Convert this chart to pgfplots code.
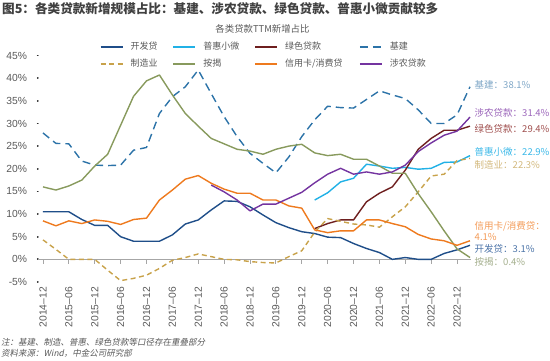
\documentclass[border=0pt]{standalone}
\usepackage{fontspec}
\setmainfont{Liberation Sans}
\newfontfamily\cjk{Noto Sans CJK SC}
\newfontfamily\cjksl{Noto Sans CJK SC}[FakeSlant=0.2]
\usepackage{pgfplots}
\pgfplotsset{compat=1.18}
\definecolor{kaifa}{HTML}{1F4E89}
\definecolor{puhui}{HTML}{21B1E6}
\definecolor{lvse}{HTML}{6E1F1F}
\definecolor{jijian}{HTML}{2C73A8}
\definecolor{zhizao}{HTML}{C8A24A}
\definecolor{anjie}{HTML}{889A5D}
\definecolor{xinyong}{HTML}{EE7A1E}
\definecolor{shenong}{HTML}{7434A0}
\definecolor{labc}{HTML}{595959}
\definecolor{titlec}{HTML}{404040}
\definecolor{axisc}{HTML}{A6A6A6}
\definecolor{Ljijian}{HTML}{7EA6C6}
\definecolor{Lshenong}{HTML}{9B65BA}
\definecolor{Llvse}{HTML}{A0504F}
\definecolor{Lpuhui}{HTML}{3AB8E8}
\definecolor{Lzhizao}{HTML}{D2B87C}
\definecolor{Lxinyong}{HTML}{F39A56}
\definecolor{Lkaifa}{HTML}{4C74A8}
\definecolor{Lanjie}{HTML}{A3AE8C}

\pgfplotstableread{
i v
0 10.5
1 10.5
2 10.5
3 8.8
4 7.5
5 7.5
6 5.0
7 4.0
8 4.0
9 4.0
10 5.4
11 7.8
12 8.7
13 10.9
14 12.9
15 12.8
16 11.6
17 9.8
18 8.1
19 7.0
20 6.1
21 5.7
22 4.9
23 4.8
24 3.5
25 2.4
26 1.5
27 0.0
28 0.4
29 0.0
30 0.0
31 1.3
32 2.1
33 3.1
}\kaifadata

\pgfplotstableread{
i v
21 13.1
22 14.7
23 17.1
24 17.9
25 21.0
26 20.6
27 20.1
28 20.3
29 19.9
30 20.1
31 21.4
32 21.5
33 22.9
}\puhuidata

\pgfplotstableread{
i v
21 6.8
22 7.9
23 8.7
24 8.7
25 12.7
26 14.6
27 16.0
28 19.7
29 24.3
30 26.7
31 28.5
32 28.5
33 29.4
}\lvsedata

\pgfplotstableread{
i v
0 27.9
1 25.6
2 25.5
3 21.7
4 20.8
5 20.7
6 20.8
7 24.1
8 24.7
9 32.2
10 35.9
11 38.1
12 41.8
13 36.6
14 31.5
15 27.1
16 23.4
17 21.2
18 19.1
19 22.6
20 27.1
21 30.8
22 33.8
23 33.5
24 33.4
25 35.3
26 37.2
27 36.3
28 35.5
29 33.0
30 30.0
31 30.0
32 31.9
33 38.1
}\jijiandata

\pgfplotstableread{
i v
0 4.3
1 2.2
2 0.0
3 0.0
4 0.0
5 -2.4
6 -4.7
7 -4.2
8 -3.5
9 -2.0
10 -0.2
11 0.4
12 1.2
13 0.6
14 0.0
15 -0.1
16 -0.5
17 -0.7
18 -0.8
19 0.6
20 1.9
21 6.0
22 9.0
23 8.4
24 7.8
25 7.6
26 7.1
27 9.4
28 11.6
29 14.9
30 18.4
31 18.8
32 21.8
33 22.3
}\zhizaodata

\pgfplotstableread{
i v
0 16.0
1 15.3
2 16.2
3 17.5
4 20.6
5 23.2
6 29.6
7 36.0
8 39.4
9 40.7
10 36.3
11 32.2
12 29.4
13 26.7
14 25.5
15 24.3
16 23.9
17 23.2
18 24.3
19 25.0
20 25.4
21 23.5
22 22.9
23 23.2
24 22.1
25 22.1
26 20.6
27 19.0
28 19.0
29 14.5
30 10.5
31 6.3
32 2.3
33 0.4
}\anjiedata

\pgfplotstableread{
i v
0 8.5
1 7.4
2 8.5
3 7.9
4 8.7
5 8.4
6 7.7
7 8.8
8 9.1
9 13.1
10 15.3
11 17.7
12 18.5
13 16.8
14 15.5
15 14.6
16 14.6
17 13.1
18 13.1
19 11.8
20 11.3
21 6.5
22 5.9
23 6.3
24 6.3
25 8.7
26 8.7
27 7.9
28 7.2
29 5.5
30 4.5
31 4.1
32 3.1
33 4.1
}\xinyongdata

\pgfplotstableread{
i v
13 16.4
14 14.9
15 13.1
16 10.7
17 12.2
18 12.2
19 13.5
20 14.8
21 16.9
22 18.8
23 20.1
24 18.8
25 19.3
26 18.8
27 19.3
28 20.8
29 23.8
30 25.7
31 27.4
32 28.3
33 31.4
}\shenongdata

\begin{document}
\begin{tikzpicture}
\path[use as bounding box] (0pt,0pt) rectangle (550pt,360pt);
\node[anchor=west, inner sep=0pt, text=titlec, font=\cjk\bfseries\fontsize{12.6}{14}\selectfont] at (2pt,351.5pt) {图5：各类贷款新增规模占比：基建、涉农贷款、绿色贷款、普惠小微贡献较多};
\node[inner sep=0pt, text=labc, font=\cjk\fontsize{9.4}{11}\selectfont] at (262.5pt,330.7pt) {各类贷款TTM新增占比};
\node[anchor=west, inner sep=0pt, text=labc, font=\cjksl\fontsize{8.5}{10}\selectfont] at (1pt,18pt) {注：基建、制造、普惠、绿色贷款等口径存在重叠部分};
\node[anchor=west, inner sep=0pt, text=labc, font=\cjksl\fontsize{8.5}{10}\selectfont] at (1pt,7pt) {资料来源：Wind，中金公司研究部};

\begin{axis}[
  at={(37.8pt,78pt)}, anchor=south west,
  scale only axis, width=432.2pt, height=226.5pt,
  xmin=-0.4, xmax=33, ymin=-5, ymax=45,
  clip=false,
  axis line style={draw=none},
  xtick={0,2,...,32},
  xticklabels={2014--12,2015--06,2015--12,2016--06,2016--12,2017--06,2017--12,2018--06,2018--12,2019--06,2019--12,2020--06,2020--12,2021--06,2021--12,2022--06,2022--12},
  xtick style={draw=none},
  xtick pos=left, ytick pos=left,
  xticklabel style={rotate=90, anchor=east, inner sep=0pt, text=labc, font=\fontsize{10.3}{12}\selectfont},
  xticklabel shift=5pt,
  ytick={-5,0,5,10,15,20,25,30,35,40,45},
  yticklabels={-5\%,0\%,5\%,10\%,15\%,20\%,25\%,30\%,35\%,40\%,45\%},
  ytick align=center,
  major tick length=0.01pt,
  ytick style={draw=black, line width=1.8pt, line cap=round},
  yticklabel style={inner sep=0pt, anchor=east, text=labc, font=\fontsize{10.3}{12}\selectfont, xshift=-10.5pt},
  legend columns=4,
  legend style={at={(axis description cs:0.1439,1.056)}, anchor=north west, draw=none, fill=none,
    inner sep=0pt, outer sep=0pt, column sep=0pt, row sep=8.5pt,
    font=\cjk\fontsize{9}{9}\selectfont, text=labc,
    nodes={inner sep=0pt, text height=6.5pt, text depth=2pt}},
  legend image code/.code={\path[draw=none,fill=none] (0pt,-3pt) rectangle (30pt,3pt); \draw[#1] (0pt,0pt) -- (22pt,0pt);},
  every axis plot/.append style={line width=1.4pt, line join=round},
]
\addplot[axisc, line width=0.8pt, forget plot] coordinates {(-0.4,0) (33.1,0)};
\addplot[axisc, line width=0.8pt, ycomb, forget plot] coordinates {(0,-1) (2,-1) (4,-1) (6,-1) (8,-1) (10,-1) (12,-1) (14,-1) (16,-1) (18,-1) (20,-1) (22,-1) (24,-1) (26,-1) (28,-1) (30,-1) (32,-1)};

\addplot[kaifa] table[x=i,y=v] {\kaifadata};
\addlegendentry{\makebox[42pt][l]{开发贷}}
\addplot[puhui] table[x=i,y=v] {\puhuidata};
\addlegendentry{\makebox[51pt][l]{普惠小微}}
\addplot[lvse] table[x=i,y=v] {\lvsedata};
\addlegendentry{\makebox[74pt][l]{绿色贷款}}
\addplot[jijian, dash pattern=on 8pt off 5pt] table[x=i,y=v] {\jijiandata};
\addlegendentry{\makebox[50pt][l]{基建}}
\addplot[zhizao, dash pattern=on 5pt off 3.5pt] table[x=i,y=v] {\zhizaodata};
\addlegendentry{\makebox[42pt][l]{制造业}}
\addplot[anjie] table[x=i,y=v] {\anjiedata};
\addlegendentry{\makebox[51pt][l]{按揭}}
\addplot[xinyong] table[x=i,y=v] {\xinyongdata};
\addlegendentry{\makebox[74pt][l]{信用卡/消费贷}}
\addplot[shenong] table[x=i,y=v] {\shenongdata};
\addlegendentry{\makebox[50pt][l]{涉农贷款}}

\node[anchor=west, inner sep=0pt, text=Ljijian, font=\cjk\fontsize{9.5}{11}\selectfont] at (axis cs:33.35,38.5) {基建：38.1\%};
\node[anchor=west, inner sep=0pt, text=Lshenong, font=\cjk\fontsize{9.5}{11}\selectfont] at (axis cs:33.35,32.3) {涉农贷款：31.4\%};
\node[anchor=west, inner sep=0pt, text=Llvse, font=\cjk\fontsize{9.5}{11}\selectfont] at (axis cs:33.35,28.9) {绿色贷款：29.4\%};
\node[anchor=west, inner sep=0pt, text=Lpuhui, font=\cjk\fontsize{9.5}{11}\selectfont] at (axis cs:33.35,23.8) {普惠小微：22.9\%};
\node[anchor=west, inner sep=0pt, text=Lzhizao, font=\cjk\fontsize{9.5}{11}\selectfont] at (axis cs:33.35,20.9) {制造业：22.3\%};
\node[anchor=west, inner sep=0pt, text=Lxinyong, font=\cjk\fontsize{9.5}{11}\selectfont] at (axis cs:33.35,7.2) {信用卡/消费贷：};
\node[anchor=west, inner sep=0pt, text=Lxinyong, font=\cjk\fontsize{9.5}{11}\selectfont] at (axis cs:33.35,5.0) {4.1\%};
\node[anchor=west, inner sep=0pt, text=Lkaifa, font=\cjk\fontsize{9.5}{11}\selectfont] at (axis cs:33.35,2.4) {开发贷：3.1\%};
\node[anchor=west, inner sep=0pt, text=Lanjie, font=\cjk\fontsize{9.5}{11}\selectfont] at (axis cs:33.35,-0.5) {按揭：0.4\%};
\end{axis}
\end{tikzpicture}
\end{document}
